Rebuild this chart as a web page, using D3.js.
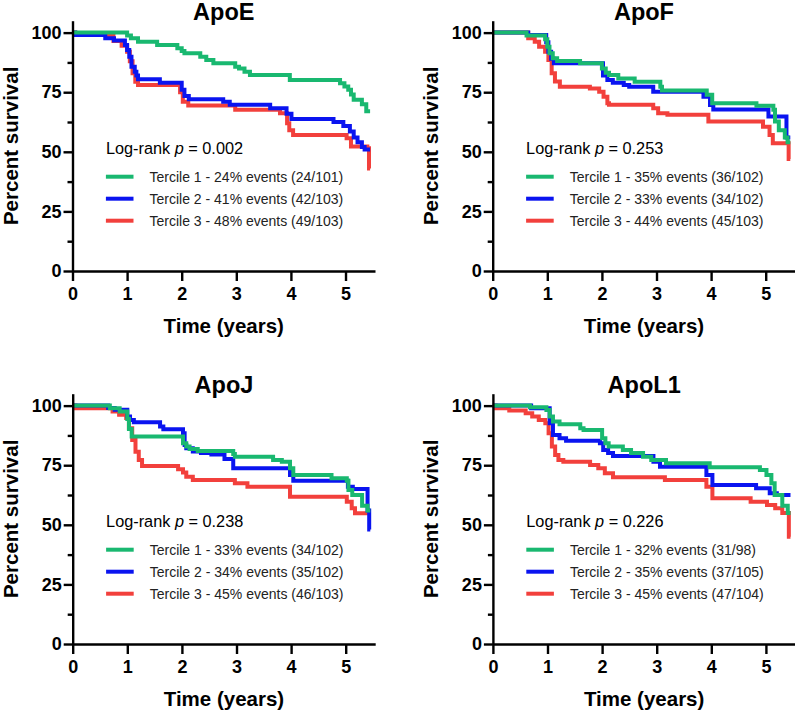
<!DOCTYPE html>
<html><head><meta charset="utf-8">
<script src="https://cdn.jsdelivr.net/npm/d3@7"></script>
<style>
html,body{margin:0;padding:0;background:#fff;}
svg{display:block;font-family:"Liberation Sans",Arial,Helvetica,sans-serif;}
</style></head>
<body>
<svg id="chart" width="795" height="713"></svg>
<script>
// ---- data ----
const panelTitles = ["ApoE", "ApoF", "ApoJ", "ApoL1"];
const pValues = ["0.002", "0.253", "0.238", "0.226"];
const seriesNames = ["Tercile 1", "Tercile 2", "Tercile 3"];
const legendE = ["24% events (24/101)", "41% events (42/103)", "48% events (49/103)"];
const legendF = ["35% events (36/102)", "33% events (34/102)", "44% events (45/103)"];
const legendJ = ["33% events (34/102)", "34% events (35/102)", "45% events (46/103)"];
const legendL = ["32% events (31/98)", "35% events (37/105)", "45% events (47/104)"];
const xTicks = [0, 1, 2, 3, 4, 5];
const yTicks = [0, 25, 50, 75, 100];
const yMinorTicks = [12.5, 37.5, 62.5, 87.5];

// [time (years), percent survival] step points
const apoE_t1 = [[0,100],[1.0,98.8],[1.07,97.6],[1.2,96.2],[1.55,94.8],[1.92,93.4],[2.0,92.3],[2.05,91.3],[2.34,89.9],[2.45,88.5],[2.58,87.1],[2.98,85.7],[3.05,85.0],[3.15,83.6],[3.25,82.2],[3.98,80.1],[4.9,78.8],[4.98,77.4],[5.05,76],[5.1,74],[5.15,71.8],[5.3,70],[5.38,67],[5.45,67]];
const apoE_t2 = [[0,100],[0.05,99],[0.6,97.6],[0.76,96.7],[0.96,94.8],[1.0,92.7],[1.04,89.9],[1.08,85.7],[1.14,83.6],[1.17,82],[1.2,80.4],[1.6,79],[2.0,76],[2.05,73.4],[2.13,72],[2.76,71],[2.88,69.7],[3.62,68.3],[3.92,66],[4.01,63.8],[4.78,62.5],[4.96,60.8],[5.08,58.5],[5.15,56],[5.22,54],[5.3,52],[5.35,51],[5.45,51]];
const apoE_t3 = [[0,100],[0.05,99],[0.75,96.5],[0.9,94.5],[1.0,92],[1.05,88],[1.1,83],[1.15,79.4],[1.2,78],[1.97,75],[2.02,71],[2.12,69.4],[2.98,67.6],[3.8,66.2],[3.93,62],[3.97,59],[4.04,57.1],[5.02,55.7],[5.1,52.2],[5.4,51.5],[5.43,43],[5.45,43]];

const apoF_t1 = [[0,100],[0.62,98.8],[0.96,97.2],[1.0,94.1],[1.04,91.3],[1.1,89.2],[1.18,88.1],[1.6,87.1],[2.0,85],[2.07,83.2],[2.13,82.2],[2.3,80.8],[2.6,79.4],[3.07,77.3],[3.1,75.7],[3.92,73.9],[4.02,70.4],[4.83,69.3],[5.14,67.6],[5.17,62.7],[5.24,59],[5.35,56],[5.4,54],[5.45,54]];
const apoF_t2 = [[0,100],[0.65,99],[0.98,96],[1.02,92],[1.07,89],[1.12,87.1],[2.02,82],[2.1,80.1],[2.2,79],[2.4,78],[2.5,77.3],[2.94,75.2],[3.86,73.1],[3.98,69.6],[4.04,67.8],[5.05,64.8],[5.38,56],[5.45,56]];
const apoF_t3 = [[0,100],[0.65,97.6],[0.77,96.2],[0.85,94.1],[0.96,92],[1.02,88.5],[1.08,83],[1.14,79.5],[1.23,77.3],[1.78,76.6],[1.95,75.2],[2.03,73.1],[2.1,70.4],[2.13,69.7],[2.94,68.3],[3.03,66.2],[3.2,65.5],[3.95,62.7],[4.95,60.5],[5.07,57.1],[5.13,53.6],[5.42,47],[5.45,47]];

const apoJ_t1 = [[0,100],[0.68,98.9],[0.86,97.5],[1.0,94.4],[1.03,90.2],[1.08,87],[2.02,84.2],[2.08,82.8],[2.14,81.8],[2.29,81],[2.94,79.7],[2.97,78.6],[3.67,77.2],[3.83,76.5],[3.98,73.7],[4.04,70.9],[4.74,69.5],[5.02,68.5],[5.05,64.6],[5.12,62.5],[5.3,58],[5.4,56],[5.45,56]];
const apoJ_t2 = [[0,100],[0.65,99],[0.77,98.3],[1.0,95.4],[1.05,94],[1.12,93],[1.6,91.2],[1.66,90.1],[2.02,88.4],[2.05,83.5],[2.08,82.1],[2.2,80.8],[2.35,80.1],[2.54,79.5],[2.78,77.6],[2.94,73.7],[3.98,70.9],[4.04,68.5],[5.04,66],[5.13,65],[5.4,56],[5.43,48],[5.45,48]];
const apoJ_t3 = [[0,100],[0.05,98.9],[0.73,97.5],[0.85,96.2],[0.98,94.8],[1.03,90.5],[1.09,85.6],[1.15,80.7],[1.21,77.2],[1.27,74.7],[1.93,73.3],[2.02,71.9],[2.08,70.2],[2.2,68.8],[2.97,67.4],[3.2,66],[3.98,61.8],[5.02,59.7],[5.11,56.9],[5.17,54.8],[5.45,54.8]];

const apoL_t1 = [[0,100],[0.68,99.3],[0.98,98.2],[1.04,95.4],[1.1,93.3],[1.22,92.2],[1.6,90.5],[1.66,89.8],[2.0,86.3],[2.06,84.2],[2.12,82.8],[2.38,81.4],[2.53,80.1],[2.75,78.6],[2.9,77.2],[3.17,75.8],[3.97,74.1],[4.89,73],[5.01,70.9],[5.1,67.4],[5.16,62.5],[5.3,58],[5.4,55],[5.45,55]];
const apoL_t2 = [[0,100],[0.7,98.9],[1.04,92.6],[1.1,87.7],[1.22,86.3],[1.34,85.3],[1.96,84.2],[2.02,81.4],[2.11,80.1],[2.2,78.9],[2.94,76.5],[3.06,74.4],[3.91,70.9],[4.02,66.7],[4.82,65.3],[5.07,63.2],[5.2,62.5],[5.45,62.5]];
const apoL_t3 = [[0,100],[0.05,98.9],[0.3,98],[0.6,96.8],[0.72,95.4],[0.84,94],[0.96,92.6],[1.02,88.4],[1.08,82.8],[1.14,79.3],[1.2,77.2],[1.29,76.5],[1.78,75.1],[1.93,73.7],[2.05,71.6],[2.2,69.9],[3.15,68.8],[3.91,66],[4.02,61.1],[4.72,59.7],[5.02,58.3],[5.17,56.9],[5.3,55],[5.42,45],[5.45,45]];

const colors = ["#19B870", "#0A14F0", "#F2403C"];

// ---- layout ----
const panels = [
  {title: panelTitles[0], p: pValues[0], legend: legendE, series: [apoE_t1, apoE_t2, apoE_t3], ox: 72.5, oy: 0},
  {title: panelTitles[1], p: pValues[1], legend: legendF, series: [apoF_t1, apoF_t2, apoF_t3], ox: 492.7, oy: 0},
  {title: panelTitles[2], p: pValues[2], legend: legendJ, series: [apoJ_t1, apoJ_t2, apoJ_t3], ox: 72.7, oy: 373},
  {title: panelTitles[3], p: pValues[3], legend: legendL, series: [apoL_t1, apoL_t2, apoL_t3], ox: 492.9, oy: 373}
];

const svg = d3.select("#chart");
const plotW = 302.5;
const yBottom = 271, yTop = 20.7;
const FONT = "Liberation Sans, Arial, sans-serif";

panels.forEach(pn => {
  const g = svg.append("g").attr("transform", `translate(0,${pn.oy})`);
  const x = d3.scaleLinear().domain([0, 5.54]).range([pn.ox, pn.ox + plotW]);
  const y = d3.scaleLinear().domain([0, 105]).range([yBottom, yTop]);

  // curves (red, blue, green order so green on top)
  const line = d3.line().x(d => x(d[0])).y(d => y(d[1])).curve(d3.curveStepAfter);
  [2, 1, 0].forEach(i => {
    g.append("path").datum(pn.series[i])
      .attr("d", line).attr("fill", "none")
      .attr("stroke", colors[i]).attr("stroke-width", 4)
      .attr("stroke-linejoin", "miter").attr("stroke-linecap", "butt");
  });

  // y axis
  const yAxis = g.append("g").attr("transform", `translate(${pn.ox},0)`)
    .call(d3.axisLeft(y).tickValues(yTicks).tickSize(9).tickSizeOuter(0).tickPadding(2));
  yAxis.select(".domain").attr("stroke-width", 2.4);
  yAxis.selectAll(".tick line").attr("stroke-width", 2.4);
  yAxis.selectAll(".tick text").attr("font-size", 18).attr("font-weight", "bold")
    .attr("font-family", FONT).attr("fill", "#000");
  const yMinor = g.append("g").attr("transform", `translate(${pn.ox},0)`)
    .call(d3.axisLeft(y).tickValues(yMinorTicks).tickSize(5).tickSizeOuter(0).tickFormat(""));
  yMinor.select(".domain").remove();
  yMinor.selectAll(".tick line").attr("stroke-width", 2.4);

  // x axis
  const xAxis = g.append("g").attr("transform", `translate(0,${yBottom})`)
    .call(d3.axisBottom(x).tickValues(xTicks).tickFormat(d3.format("d"))
      .tickSize(10).tickSizeOuter(0).tickPadding(6));
  xAxis.select(".domain").attr("stroke-width", 2.4);
  xAxis.selectAll(".tick line").attr("stroke-width", 2.4);
  xAxis.selectAll(".tick text").attr("font-size", 18).attr("font-weight", "bold")
    .attr("font-family", FONT).attr("fill", "#000");

  // titles
  const cx = pn.ox + plotW / 2;
  g.append("text").attr("x", cx).attr("y", 19.5).attr("text-anchor", "middle")
    .attr("font-size", 23.5).attr("font-weight", "bold").text(pn.title);
  g.append("text").attr("x", cx).attr("y", 333).attr("text-anchor", "middle")
    .attr("font-size", 20.5).attr("font-weight", "bold").text("Time (years)");
  g.append("text").attr("transform", `translate(${pn.ox - 55},${(yBottom + yTop) / 2}) rotate(-90)`)
    .attr("text-anchor", "middle").attr("font-size", 20.5).attr("font-weight", "bold")
    .text("Percent survival");

  // legend
  const lx = pn.ox + 33.4;
  const lr = g.append("text").attr("x", lx).attr("y", 154.3).attr("font-size", 16.3);
  lr.append("tspan").text("Log-rank ");
  lr.append("tspan").attr("font-style", "italic").text("p");
  lr.append("tspan").text(" = " + pn.p);
  [0, 1, 2].forEach(i => {
    const ly = 176.7 + i * 22;
    g.append("line").attr("x1", lx).attr("x2", lx + 27.6).attr("y1", ly).attr("y2", ly)
      .attr("stroke", colors[i]).attr("stroke-width", 4);
    g.append("text").attr("x", pn.ox + 77).attr("y", ly + 5).attr("font-size", 14)
      .attr("fill", "#222").text(seriesNames[i] + " - " + pn.legend[i]);
  });
});
</script>
</body></html>
